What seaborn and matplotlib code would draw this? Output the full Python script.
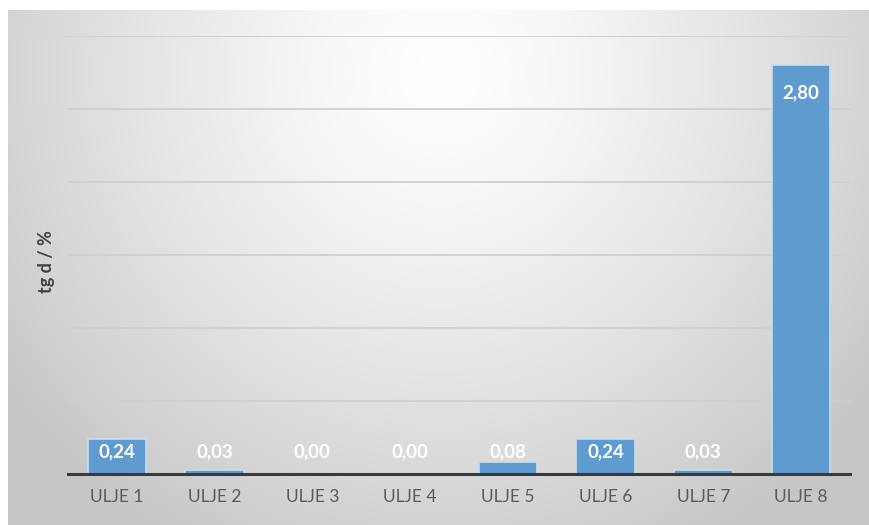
import numpy as np
import pandas as pd
import matplotlib
matplotlib.use("Agg")
import matplotlib.pyplot as plt
import seaborn as sns

categories = ["ULJE 1", "ULJE 2", "ULJE 3", "ULJE 4", "ULJE 5", "ULJE 6", "ULJE 7", "ULJE 8"]
values = [0.24, 0.03, 0.00, 0.00, 0.08, 0.24, 0.03, 2.80]
labels = ["0,24", "0,03", "0,00", "0,00", "0,08", "0,24", "0,03", "2,80"]
y_label = "tg d / %"

sns.set_theme(style="white")
plt.rcParams["font.family"] = ["Lato", "DejaVu Sans"]

W, H = 869, 525
fig = plt.figure(figsize=(W / 100, H / 100), dpi=100)
fig.patch.set_facecolor("white")

# background radial gradient panel
bg = fig.add_axes([8 / W, 0, 1 - 8 / W, 515 / H])
bg.set_axis_off()
ny, nx = 200, 340
yy, xx = np.mgrid[0:ny, 0:nx]
cx, cy = nx * 0.5, ny * 0.12
d = np.sqrt(((xx - cx) / (nx * 0.62)) ** 2 + ((yy - cy) / (ny * 1.05)) ** 2)
d = np.clip(d, 0, 1)
shade = 1.0 - 0.22 * d ** 1.3
img = np.dstack([shade, shade, shade])
bg.imshow(img, aspect="auto", extent=[0, 1, 0, 1], interpolation="bicubic")
bg.set_xlim(0, 1)
bg.set_ylim(0, 1)

ax = fig.add_axes([68 / W, 1 - 474 / H, (850 - 68) / W, (474 - 36) / H])
ax.patch.set_alpha(0)

df = pd.DataFrame({"cat": categories, "val": values})
sns.barplot(data=df, x="cat", y="val", ax=ax, color="#5B9BD5", saturation=0.92,
            width=0.6, edgecolor="#C9DDF1", linewidth=1.2, zorder=3)

ax.set_ylim(0, 3.0)
ax.set_xlim(-0.5, len(categories) - 0.5)
ax.set_yticks(np.arange(0.5, 3.01, 0.5))
ax.set_yticklabels([])
ax.tick_params(axis="y", length=0)
ax.yaxis.grid(True, color="#CFCFCF", linewidth=1.3, zorder=0)
ax.xaxis.grid(False)
for s in ["top", "right", "left"]:
    ax.spines[s].set_visible(False)
ax.spines["bottom"].set_color("#3A3A3A")
ax.spines["bottom"].set_linewidth(2.2)
ax.spines["bottom"].set_zorder(5)
ax.tick_params(axis="x", length=0, pad=11, labelsize=12.5, labelcolor="#595959")
ax.set_xlabel("")
ax.set_ylabel(y_label, fontsize=13, fontweight="bold", color="#404040")
ax.yaxis.set_label_coords(-0.016, 0.485)

for i, (v, lab) in enumerate(zip(values, labels)):
    ypos = max(v - 0.19, 0.155)
    ax.text(i, ypos, lab, ha="center", va="center", color="white",
            fontsize=13.5, fontweight="bold", zorder=6)

fig.savefig("out.png", dpi=100)
